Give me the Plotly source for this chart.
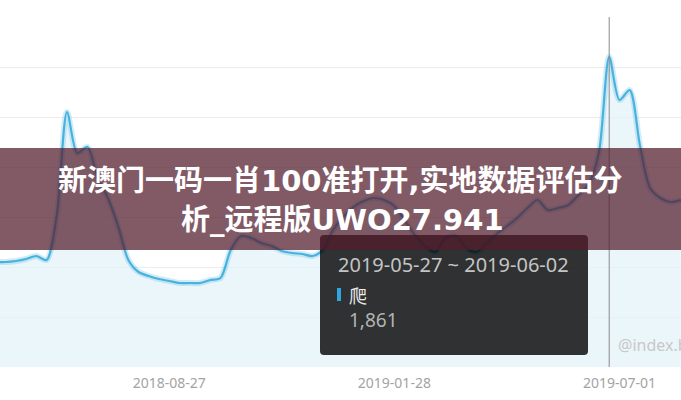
import plotly.graph_objects as go

# ---- data ----
week_index = list(range(68))
search_values = [630, 630, 636, 648, 666, 642, 912, 1530, 1284, 1320,
                 1134, 1014, 846, 642, 570, 546, 528, 516, 504, 504,
                 504, 522, 534, 702, 786, 774, 744, 726, 696, 684,
                 678, 666, 702, 822, 900, 960, 996, 1014, 1002, 966,
                 882, 792, 726, 690, 774, 786, 714, 690, 738, 798,
                 846, 894, 954, 1002, 942, 954, 972, 1032, 1098, 1290,
                 1861, 1602, 1662, 1332, 1074, 1014, 990, 1002]
tick_index = [17, 39, 61]
tick_labels = ["2018-08-27", "2019-01-28", "2019-07-01"]
hover_index = 60
hover_range = "2019-05-27 ~ 2019-06-02"
series_name = "爬"
hover_value = "1,861"
title_line1 = "新澳门一码一肖100准打开,实地数据评估分"
title_line2 = "析_远程版UWO27.941"
watermark = "@index.baidu.com"

W, H = 681, 400
MT, MB = 17, 33
PLOT_H = H - MT - MB


def px(p):
    return p / W


def py(p):
    return (H - MB - p) / PLOT_H


fig = go.Figure()
fig.add_trace(go.Scatter(
    x=week_index, y=search_values, mode="lines",
    line=dict(color="rgba(90,185,228,0.28)", width=6, shape="spline", smoothing=0.8),
    fill="tozeroy", fillcolor="rgba(228,243,250,0.75)",
    hoverinfo="skip", showlegend=False))
fig.add_trace(go.Scatter(
    x=week_index, y=search_values, mode="lines",
    line=dict(color="#48b2de", width=2.2, shape="spline", smoothing=0.8),
    hoverinfo="skip", showlegend=False))


def rounded_rect(x0, y0, x1, y1, r):
    pts = [
        f"M {px(x0 + r)} {py(y0)}",
        f"L {px(x1 - r)} {py(y0)}",
        f"Q {px(x1)} {py(y0)} {px(x1)} {py(y0 + r)}",
        f"L {px(x1)} {py(y1 - r)}",
        f"Q {px(x1)} {py(y1)} {px(x1 - r)} {py(y1)}",
        f"L {px(x0 + r)} {py(y1)}",
        f"Q {px(x0)} {py(y1)} {px(x0)} {py(y1 - r)}",
        f"L {px(x0)} {py(y0 + r)}",
        f"Q {px(x0)} {py(y0)} {px(x0 + r)} {py(y0)}",
        "Z",
    ]
    return " ".join(pts)


shapes = [
    dict(type="line", xref="x", yref="paper", x0=hover_index, x1=hover_index,
         y0=0, y1=1, line=dict(color="#8a8a8a", width=1), layer="above"),
    dict(type="path", xref="paper", yref="paper", path=rounded_rect(320, 235, 588, 355, 4),
         fillcolor="rgba(0,0,0,0.8)", line=dict(width=0), layer="above"),
    dict(type="rect", xref="paper", yref="paper", x0=px(337), x1=px(341), y0=py(301), y1=py(288),
         fillcolor="#2ea6e0", line=dict(width=0), layer="above"),
    dict(type="rect", xref="paper", yref="paper", x0=0, x1=1, y0=py(250), y1=py(148),
         fillcolor="rgba(84,29,45,0.73)", line=dict(width=0), layer="above"),
]

title_font = dict(family="DejaVu Sans, Noto Sans CJK SC", size=29, color="#ffffff")
annotations = [
    dict(text=hover_range, x=px(336), y=py(264), xref="paper", yref="paper",
         xanchor="left", yanchor="middle", showarrow=False,
         font=dict(family="Noto Sans, Open Sans, sans-serif", size=20, color="#c4c4c4")),
    dict(text=series_name, x=px(347), y=py(295), xref="paper", yref="paper",
         xanchor="left", yanchor="middle", showarrow=False,
         font=dict(family="Noto Sans CJK SC", size=18, color="#ececec")),
    dict(text=hover_value, x=px(347), y=py(320), xref="paper", yref="paper",
         xanchor="left", yanchor="middle", showarrow=False,
         font=dict(family="Noto Sans, Open Sans, sans-serif", size=19, color="#b4b4b4")),
    dict(text=watermark, x=px(616), y=py(345), xref="paper", yref="paper",
         xanchor="left", yanchor="middle", showarrow=False,
         font=dict(family="Noto Sans, sans-serif", size=16, color="#c8c8c8")),
    dict(text="<b>" + title_line1 + "</b>", x=px(340), y=py(181), xref="paper", yref="paper",
         xanchor="center", yanchor="middle", showarrow=False, font=title_font),
    dict(text="<b>" + title_line2 + "</b>", x=px(342), y=py(220), xref="paper", yref="paper",
         xanchor="center", yanchor="middle", showarrow=False, font=title_font),
]

x0 = 0.45
fig.update_layout(
    width=W, height=H,
    margin=dict(l=0, r=0, t=MT, b=MB, pad=0),
    paper_bgcolor="#ffffff", plot_bgcolor="#ffffff",
    xaxis=dict(range=[x0, x0 + W / 10.23], showgrid=False, zeroline=False, showline=False,
               tickmode="array", tickvals=tick_index, ticktext=tick_labels, ticks="",
               ticklabelstandoff=6,
               tickfont=dict(family="Noto Sans, sans-serif", size=14, color="#a3a3a3"),
               fixedrange=True),
    yaxis=dict(range=[0, 2100], dtick=300, showgrid=True, gridcolor="#ececec", gridwidth=1,
               zeroline=False, showline=False, showticklabels=False, fixedrange=True),
    shapes=shapes, annotations=annotations, showlegend=False,
)

fig.write_html("out.html", config={"displayModeBar": False},
               post_script="document.body.style.margin='0';")
